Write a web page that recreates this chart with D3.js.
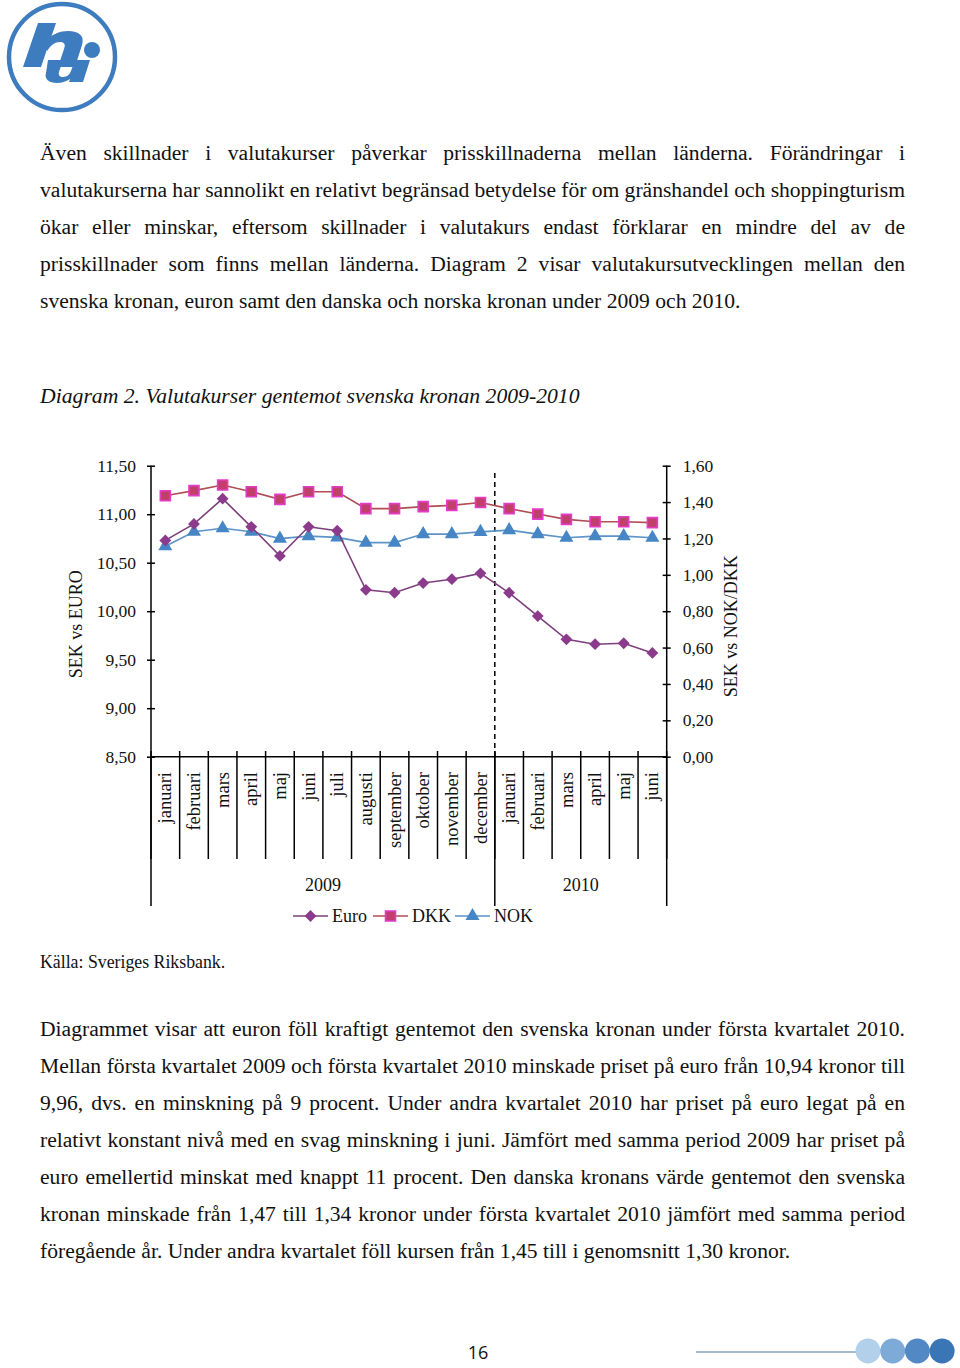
<!DOCTYPE html>
<html><head><meta charset="utf-8">
<script src="https://cdn.jsdelivr.net/npm/d3@7"></script>
<style>
html,body{margin:0;padding:0;background:#fff;}
svg{display:block;}
</style></head>
<body>
<svg id="page" width="960" height="1368"></svg>
<script>
// ---------- DATA ----------
const monthLabels = ["januari","februari","mars","april","maj","juni","juli","augusti","september","oktober","november","december","januari","februari","mars","april","maj","juni"];
const monthYear = [2009,2009,2009,2009,2009,2009,2009,2009,2009,2009,2009,2009,2010,2010,2010,2010,2010,2010];
const years = ["2009","2010"];
const euro = [10.73,10.90,11.16,10.87,10.57,10.87,10.83,10.22,10.19,10.29,10.33,10.39,10.19,9.95,9.71,9.66,9.67,9.57];
const dkk  = [1.435,1.463,1.494,1.457,1.415,1.457,1.457,1.364,1.364,1.375,1.382,1.398,1.364,1.334,1.305,1.292,1.292,1.287];
const nok  = [1.157,1.237,1.256,1.237,1.199,1.213,1.206,1.177,1.177,1.224,1.224,1.236,1.246,1.224,1.204,1.213,1.213,1.204];
const leftTicks  = [8.5,9.0,9.5,10.0,10.5,11.0,11.5];
const rightTicks = [0,0.2,0.4,0.6,0.8,1.0,1.2,1.4,1.6];
const seriesNames = ["Euro","DKK","NOK"];

const para1 = [
 "Även skillnader i valutakurser påverkar prisskillnaderna mellan länderna. Förändringar i",
 "valutakurserna har sannolikt en relativt begränsad betydelse för om gränshandel och shoppingturism",
 "ökar eller minskar, eftersom skillnader i valutakurs endast förklarar en mindre del av de",
 "prisskillnader som finns mellan länderna. Diagram 2 visar valutakursutvecklingen mellan den",
 "svenska kronan, euron samt den danska och norska kronan under 2009 och 2010."
];
const para2 = [
 "Diagrammet visar att euron föll kraftigt gentemot den svenska kronan under första kvartalet 2010.",
 "Mellan första kvartalet 2009 och första kvartalet 2010 minskade priset på euro från 10,94 kronor till",
 "9,96, dvs. en minskning på 9 procent. Under andra kvartalet 2010 har priset på euro legat på en",
 "relativt konstant nivå med en svag minskning i juni. Jämfört med samma period 2009 har priset på",
 "euro emellertid minskat med knappt 11 procent. Den danska kronans värde gentemot den svenska",
 "kronan minskade från 1,47 till 1,34 kronor under första kvartalet 2010 jämfört med samma period",
 "föregående år. Under andra kvartalet föll kursen från 1,45 till i genomsnitt 1,30 kronor."
];
const caption = "Diagram 2. Valutakurser gentemot svenska kronan 2009-2010";
const source = "Källa: Sveriges Riksbank.";
const pageNo = "16";

// ---------- PAGE ----------
const svg = d3.select("#page");
const SERIF = "'Liberation Serif','Times New Roman',serif";
svg.append("rect").attr("width",960).attr("height",1368).attr("fill","#fff");

// logo (drawn as shapes)
const LOGO = "#3E7CC0";
const logo = svg.append("g");
logo.append("circle").attr("cx",62).attr("cy",57).attr("r",53).attr("fill","none").attr("stroke",LOGO).attr("stroke-width",4.5);
logo.append("path").attr("fill",LOGO).attr("d","M38,23 L56,23 L41,67 L23,67 Z");
logo.append("path").attr("fill",LOGO).attr("d","M46,41 C52,34 60,31 68,31 C79,31 85,36 82,45 L75,67 L58,67 L64,49 C66,44 64,42 60,42 C55,42 51,45 47,51 Z");
logo.append("path").attr("fill",LOGO).attr("d","M48,60 L63,60 L59,72 C58,75 60,77 63,77 C67,77 70,74 71,71 L75,60 L90,60 L83,82 L69,82 L70,79 C67,81 62,83 57,83 C49,83 44,79 46,73 Z");
logo.append("circle").attr("cx",92).attr("cy",50).attr("r",8).attr("fill",LOGO);

function justifiedLines(lines, x0, x1, y0, lh, size, lastLeft){
  lines.forEach((line,i)=>{
    const y = y0 + i*lh;
    if (lastLeft && i === lines.length-1){
      svg.append("text").attr("x",x0).attr("y",y).attr("font-family",SERIF).attr("font-size",size).attr("fill","#111").text(line);
      return;
    }
    const words = line.split(" ");
    const g = svg.append("g");
    const nodes = words.map(w => g.append("text").attr("y",y).attr("font-family",SERIF).attr("font-size",size).attr("fill","#111").text(w));
    const widths = nodes.map(n => n.node().getComputedTextLength());
    const gap = (x1 - x0 - d3.sum(widths)) / (words.length-1);
    let cx = x0;
    nodes.forEach((n,j)=>{ n.attr("x",cx); cx += widths[j] + gap; });
  });
}
justifiedLines(para1, 40, 905, 160, 37, 21.6, true);
justifiedLines(para2, 40, 905, 1036, 37, 21.6, true);

svg.append("text").attr("x",40).attr("y",403).attr("font-family",SERIF).attr("font-style","italic")
  .attr("font-size",21.7).attr("fill","#111").text(caption);
svg.append("text").attr("x",40).attr("y",968).attr("font-family",SERIF)
  .attr("font-size",17.8).attr("fill","#111").text(source);

// footer
svg.append("text").attr("x",478).attr("y",1359).attr("text-anchor","middle").attr("font-family","'Open Sans','Liberation Sans',sans-serif")
  .attr("font-size",18).attr("fill","#111").text(pageNo);
svg.append("line").attr("x1",696).attr("x2",858).attr("y1",1352).attr("y2",1352).attr("stroke","#7FA6C6").attr("stroke-width",1.5);
const dotColors = ["#B2D0EA","#7DAAD7","#5289C4","#3A75B5"];
svg.selectAll("circle.fdot").data(dotColors).join("circle").attr("class","fdot")
  .attr("cx",(d,i)=>868+i*24.7).attr("cy",1351).attr("r",12.5).attr("fill",d=>d);

// ---------- CHART ----------
const X0 = 151, X1 = 666.7, YT = 465.7, YB = 756.7;
const x = d3.scaleBand().domain(d3.range(monthLabels.length)).range([X0,X1]).padding(0);
const yL = d3.scaleLinear().domain([8.5,11.5]).range([YB,YT]);
const yR = d3.scaleLinear().domain([0,1.6]).range([YB,YT]);
const fmt = v => d3.format(".2f")(v).replace(".",",");
const cx = i => x(i) + x.bandwidth()/2;

const chart = svg.append("g").attr("font-family",SERIF);

const axL = chart.append("g").attr("transform",`translate(${X0},0)`)
  .call(d3.axisLeft(yL).tickValues(leftTicks).tickFormat(fmt).tickSize(4).tickPadding(11));
axL.select(".domain").remove();
axL.selectAll(".tick line").attr("x1",4).attr("x2",-4).attr("stroke","#000").attr("stroke-width",1.5);
axL.selectAll(".tick text").attr("font-family",SERIF).attr("font-size",17.5).attr("fill","#111");

const axR = chart.append("g").attr("transform",`translate(${X1},0)`)
  .call(d3.axisRight(yR).tickValues(rightTicks).tickFormat(fmt).tickSize(4).tickPadding(12));
axR.select(".domain").remove();
axR.selectAll(".tick line").attr("x1",-4).attr("x2",4).attr("stroke","#000").attr("stroke-width",1.5);
axR.selectAll(".tick text").attr("font-family",SERIF).attr("font-size",17.5).attr("fill","#111");

const boundaries = d3.range(monthLabels.length+1).map(i => X0 + i*x.step());
const yearBreaks = [0, monthYear.indexOf(2010), monthLabels.length];
chart.selectAll("line.band").data(boundaries).join("line").attr("class","band")
  .attr("x1",d=>d).attr("x2",d=>d).attr("y1",751).attr("y2",859).attr("stroke","#000").attr("stroke-width",1.5);
chart.selectAll("line.ybreak").data(yearBreaks).join("line").attr("class","ybreak")
  .attr("x1",i=>X0+i*x.step()).attr("x2",i=>X0+i*x.step()).attr("y1",d=> (d===0||d===monthLabels.length)? YT : 751).attr("y2",906)
  .attr("stroke","#000").attr("stroke-width",1.5);
chart.append("line").attr("x1",X0).attr("x2",X1).attr("y1",YB).attr("y2",YB).attr("stroke","#000").attr("stroke-width",1.5);

chart.selectAll("text.month").data(monthLabels).join("text").attr("class","month")
  .attr("transform",(d,i)=>`translate(${cx(i)},772) rotate(-90)`)
  .attr("text-anchor","end").attr("dy","0.33em").attr("font-size",18.5).attr("fill","#111").text(d=>d);

chart.selectAll("text.year").data(years).join("text").attr("class","year")
  .attr("x",(d,k)=> (X0+yearBreaks[k]*x.step() + X0+yearBreaks[k+1]*x.step())/2)
  .attr("y",891).attr("text-anchor","middle").attr("font-size",18).attr("fill","#111").text(d=>d);

const sepX = X0 + yearBreaks[1]*x.step();
chart.append("line").attr("x1",sepX).attr("x2",sepX).attr("y1",473).attr("y2",YB)
  .attr("stroke","#000").attr("stroke-width",1.5).attr("stroke-dasharray","5,4");

chart.append("text").attr("transform",`translate(82,${(YT+YB)/2+13}) rotate(-90)`).attr("text-anchor","middle")
  .attr("font-size",18).attr("fill","#111").text("SEK vs EURO");
chart.append("text").attr("transform",`translate(737,${(YT+YB)/2+15}) rotate(-90)`).attr("text-anchor","middle")
  .attr("font-size",18).attr("fill","#111").text("SEK vs NOK/DKK");

const styles = {
  Euro:{line:"#7D3F7D", fill:"#8C3B8C", stroke:"none", sym:d3.symbolSquare, size:70, rot:45},
  DKK:{line:"#B24C55", fill:"#C0406A", stroke:"#E23CC8", sym:d3.symbolSquare, size:100, rot:0},
  NOK:{line:"#5C93C8", fill:"#4686C4", stroke:"none", sym:d3.symbolTriangle, size:85, rot:0}
};
const seriesData = {Euro:{vals:euro, y:yL}, DKK:{vals:dkk, y:yR}, NOK:{vals:nok, y:yR}};
["NOK","Euro","DKK"].forEach(name=>{
  const s = styles[name], d = seriesData[name];
  const line = d3.line().x((v,i)=>cx(i)).y(v=>d.y(v));
  chart.append("path").datum(d.vals).attr("d",line).attr("fill","none").attr("stroke",s.line).attr("stroke-width",1.6);
  chart.selectAll(null).data(d.vals).join("path")
    .attr("transform",(v,i)=>`translate(${cx(i)},${d.y(v)}) rotate(${s.rot})`)
    .attr("d",d3.symbol().type(s.sym).size(s.size)())
    .attr("fill",s.fill).attr("stroke",s.stroke).attr("stroke-width",1.6);
});

const legendX = [293, 373, 455];
const lg = chart.append("g");
seriesNames.forEach((name,k)=>{
  const s = styles[name], lx = legendX[k], ly = 916;
  lg.append("line").attr("x1",lx).attr("x2",lx+35).attr("y1",ly).attr("y2",ly).attr("stroke",s.line).attr("stroke-width",1.6);
  lg.append("path").attr("transform",`translate(${lx+17.5},${ly}) rotate(${s.rot})`)
    .attr("d",d3.symbol().type(s.sym).size(s.size)()).attr("fill",s.fill).attr("stroke",s.stroke).attr("stroke-width",1.6);
  lg.append("text").attr("x",lx+39).attr("y",ly+6).attr("font-size",18).attr("fill","#111").text(name);
});
</script>
</body></html>
